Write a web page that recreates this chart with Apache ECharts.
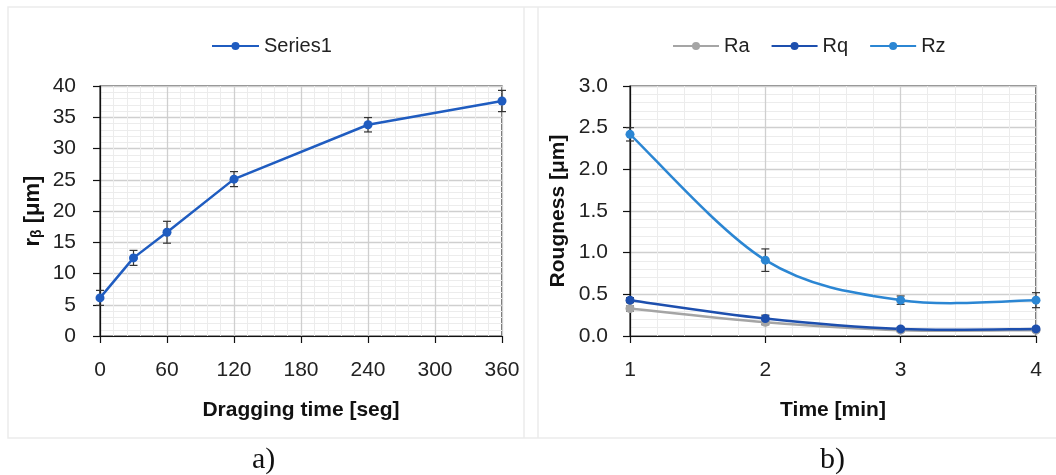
<!DOCTYPE html>
<html>
<head>
<meta charset="utf-8">
<script src="https://cdn.jsdelivr.net/npm/echarts@6/dist/echarts.min.js"></script>
<style>
  html, body { margin: 0; padding: 0; background: #fff; }
  #main { width: 1056px; height: 475px; }
</style>
</head>
<body>
<div id="main"></div>
<script>
// a) dragging time vs r-beta
var dragTimes = [0, 30, 60, 120, 240, 360];
var rBeta = [6.1, 12.5, 16.6, 25.1, 33.8, 37.6];
var rBetaErr = [1.2, 1.2, 1.75, 1.2, 1.15, 1.7];
var leftXTicks = [0, 60, 120, 180, 240, 300, 360];

// b) roughness over time
var times = [1, 2, 3, 4];
var ra = [0.33, 0.165, 0.07, 0.07];
var raErr = [0.03, 0.03, 0.02, 0.02];
var rq = [0.43, 0.21, 0.085, 0.085];
var rqErr = [0.03, 0.04, 0.02, 0.02];
var rz = [2.42, 0.91, 0.43, 0.43];
var rzErr = [0.08, 0.135, 0.05, 0.09];

var FONT = '"Liberation Sans", Arial, sans-serif';
var blue = '#1f5cc0', gray = '#a5a5a5', dark = '#1d4fae', light = '#2b86d3';

function pairs(xs, ys) {
    return xs.map(function (x, i) { return [x, ys[i]]; });
}

// error bars drawn with a custom series
function errBars(xs, ys, es, idx, color) {
    return {
        type: 'custom',
        xAxisIndex: idx, yAxisIndex: idx,
        z: 1,
        silent: true,
        data: xs.map(function (x, i) { return [x, ys[i] - es[i], ys[i] + es[i]]; }),
        renderItem: function (params, api) {
            var lo = api.coord([api.value(0), api.value(1)]);
            var hi = api.coord([api.value(0), api.value(2)]);
            var st = { stroke: color, lineWidth: 1.2 };
            var w = 4;
            return {
                type: 'group',
                children: [
                    { type: 'line', shape: { x1: lo[0], y1: lo[1], x2: hi[0], y2: hi[1] }, style: st },
                    { type: 'line', shape: { x1: lo[0] - w, y1: lo[1], x2: lo[0] + w, y2: lo[1] }, style: st },
                    { type: 'line', shape: { x1: hi[0] - w, y1: hi[1], x2: hi[0] + w, y2: hi[1] }, style: st }
                ]
            };
        }
    };
}

// excel-like smoothed line (catmull-rom, 1/6 tension) between the data points
function smoothCurve(xs, ys, idx, color) {
    return {
        type: 'custom',
        xAxisIndex: idx, yAxisIndex: idx,
        z: 2,
        silent: true,
        data: pairs(xs, ys),
        renderItem: function (params, api) {
            var i = params.dataIndex, n = xs.length;
            if (i >= n - 1) return { type: 'group', children: [] };
            var p = function (k) {
                k = Math.max(0, Math.min(n - 1, k));
                return api.coord([xs[k], ys[k]]);
            };
            var p0 = p(i - 1), p1 = p(i), p2 = p(i + 1), p3 = p(i + 2);
            return {
                type: 'bezierCurve',
                shape: {
                    x1: p1[0], y1: p1[1], x2: p2[0], y2: p2[1],
                    cpx1: p1[0] + (p2[0] - p0[0]) / 6, cpy1: p1[1] + (p2[1] - p0[1]) / 6,
                    cpx2: p2[0] - (p3[0] - p1[0]) / 6, cpy2: p2[1] - (p3[1] - p1[1]) / 6
                },
                style: { stroke: color, lineWidth: 2.5, fill: null }
            };
        }
    };
}

function lineSeries(name, xs, ys, idx, color, hideLine) {
    return {
        name: name,
        type: 'line',
        xAxisIndex: idx, yAxisIndex: idx,
        z: 3,
        symbol: 'circle',
        symbolSize: 9,
        itemStyle: { color: color },
        lineStyle: { color: color, width: 2.5, opacity: hideLine ? 0 : 1 },
        data: pairs(xs, ys)
    };
}

var labelStyle = { color: '#222', fontSize: 21, fontFamily: FONT };
var legendText = { color: '#222', fontSize: 20, fontFamily: FONT };
var nameStyle = { color: '#111', fontSize: 21, fontWeight: 'bold', fontFamily: FONT };

function valueAxis(o) {
    var base = {
        type: 'value',
        axisLine: { show: true, lineStyle: { color: '#111', width: 1.2 } },
        axisTick: { show: true, length: 7, lineStyle: { color: '#111', width: 1.2 } },
        minorTick: { show: false, splitNumber: 5 },
        splitLine: { show: true, lineStyle: { color: '#cfcfcf', width: 1.3 } },
        minorSplitLine: { show: true, lineStyle: { color: '#ececec', width: 1 } },
        axisLabel: Object.assign({ margin: 24 }, labelStyle),
        nameLocation: 'middle',
        nameTextStyle: nameStyle
    };
    return Object.assign(base, o);
}

var myChart = echarts.init(document.getElementById('main'));

var option = {
    backgroundColor: '#fff',
    animation: false,
    graphic: [
        { type: 'rect', shape: { x: 8, y: 7, width: 1060, height: 431 }, style: { fill: 'none', stroke: '#ebebeb', lineWidth: 1.5 } },
        { type: 'line', shape: { x1: 524, y1: 7, x2: 524, y2: 438 }, style: { stroke: '#ebebeb', lineWidth: 1.5 } },
        { type: 'line', shape: { x1: 538, y1: 7, x2: 538, y2: 438 }, style: { stroke: '#ebebeb', lineWidth: 1.5 } },
        { type: 'text', left: 252, top: 445, style: { text: 'a)', font: '30px "Liberation Serif", serif', fill: '#111' } },
        { type: 'text', left: 820, top: 445, style: { text: 'b)', font: '30px "Liberation Serif", serif', fill: '#111' } }
    ],
    legend: [{
        data: ['Series1'],
        left: 206, top: 31,
        itemWidth: 47, itemHeight: 10, itemGap: 14,
        textStyle: legendText
    }, {
        data: ['Ra', 'Rq', 'Rz'],
        left: 667, top: 31,
        itemWidth: 46, itemHeight: 10, itemGap: 21,
        lineStyle: { opacity: 1 },
        textStyle: legendText
    }],
    grid: [{
        left: 100, right: 554, top: 86, bottom: 139,
        show: true, borderColor: '#111', borderWidth: 1.2, backgroundColor: '#fff'
    }, {
        left: 630, right: 20, top: 86, bottom: 139,
        show: true, borderColor: '#111', borderWidth: 1.2, backgroundColor: '#fff'
    }],
    xAxis: [
        valueAxis({
            gridIndex: 0, min: leftXTicks[0], max: leftXTicks[leftXTicks.length - 1], interval: 60,
            name: 'Dragging time [seg]', nameGap: 64
        }),
        valueAxis({
            gridIndex: 1, min: times[0], max: times[times.length - 1], interval: 1,
            name: 'Time [min]', nameGap: 64
        })
    ],
    yAxis: [
        valueAxis({
            gridIndex: 0, min: 0, max: 40, interval: 5,
            name: '{b|r}{s|β}{b| [μm]}', nameGap: 56,
            axisLabel: Object.assign({ margin: 24 }, labelStyle),
            nameTextStyle: Object.assign({}, nameStyle, {
                rich: {
                    b: { fontSize: 22, fontWeight: 'bold', fontFamily: FONT, color: '#111' },
                    s: { fontSize: 14, fontWeight: 'bold', fontFamily: FONT, color: '#111', padding: [9, 0, 0, 0] }
                }
            })
        }),
        valueAxis({
            gridIndex: 1, min: 0, max: 3, interval: 0.5,
            name: 'Rougness [μm]', nameGap: 61,
            axisLabel: Object.assign({ margin: 22, formatter: function (v) { return v.toFixed(1); } }, labelStyle)
        })
    ],
    series: [
        errBars(dragTimes, rBeta, rBetaErr, 0, '#333'),
        lineSeries('Series1', dragTimes, rBeta, 0, blue, false),
        errBars(times, ra, raErr, 1, '#333'),
        errBars(times, rq, rqErr, 1, '#333'),
        errBars(times, rz, rzErr, 1, '#333'),
        smoothCurve(times, ra, 1, gray),
        smoothCurve(times, rq, 1, dark),
        smoothCurve(times, rz, 1, light),
        lineSeries('Ra', times, ra, 1, gray, true),
        lineSeries('Rq', times, rq, 1, dark, true),
        lineSeries('Rz', times, rz, 1, light, true)
    ]
};

myChart.setOption(option);
</script>
</body>
</html>
